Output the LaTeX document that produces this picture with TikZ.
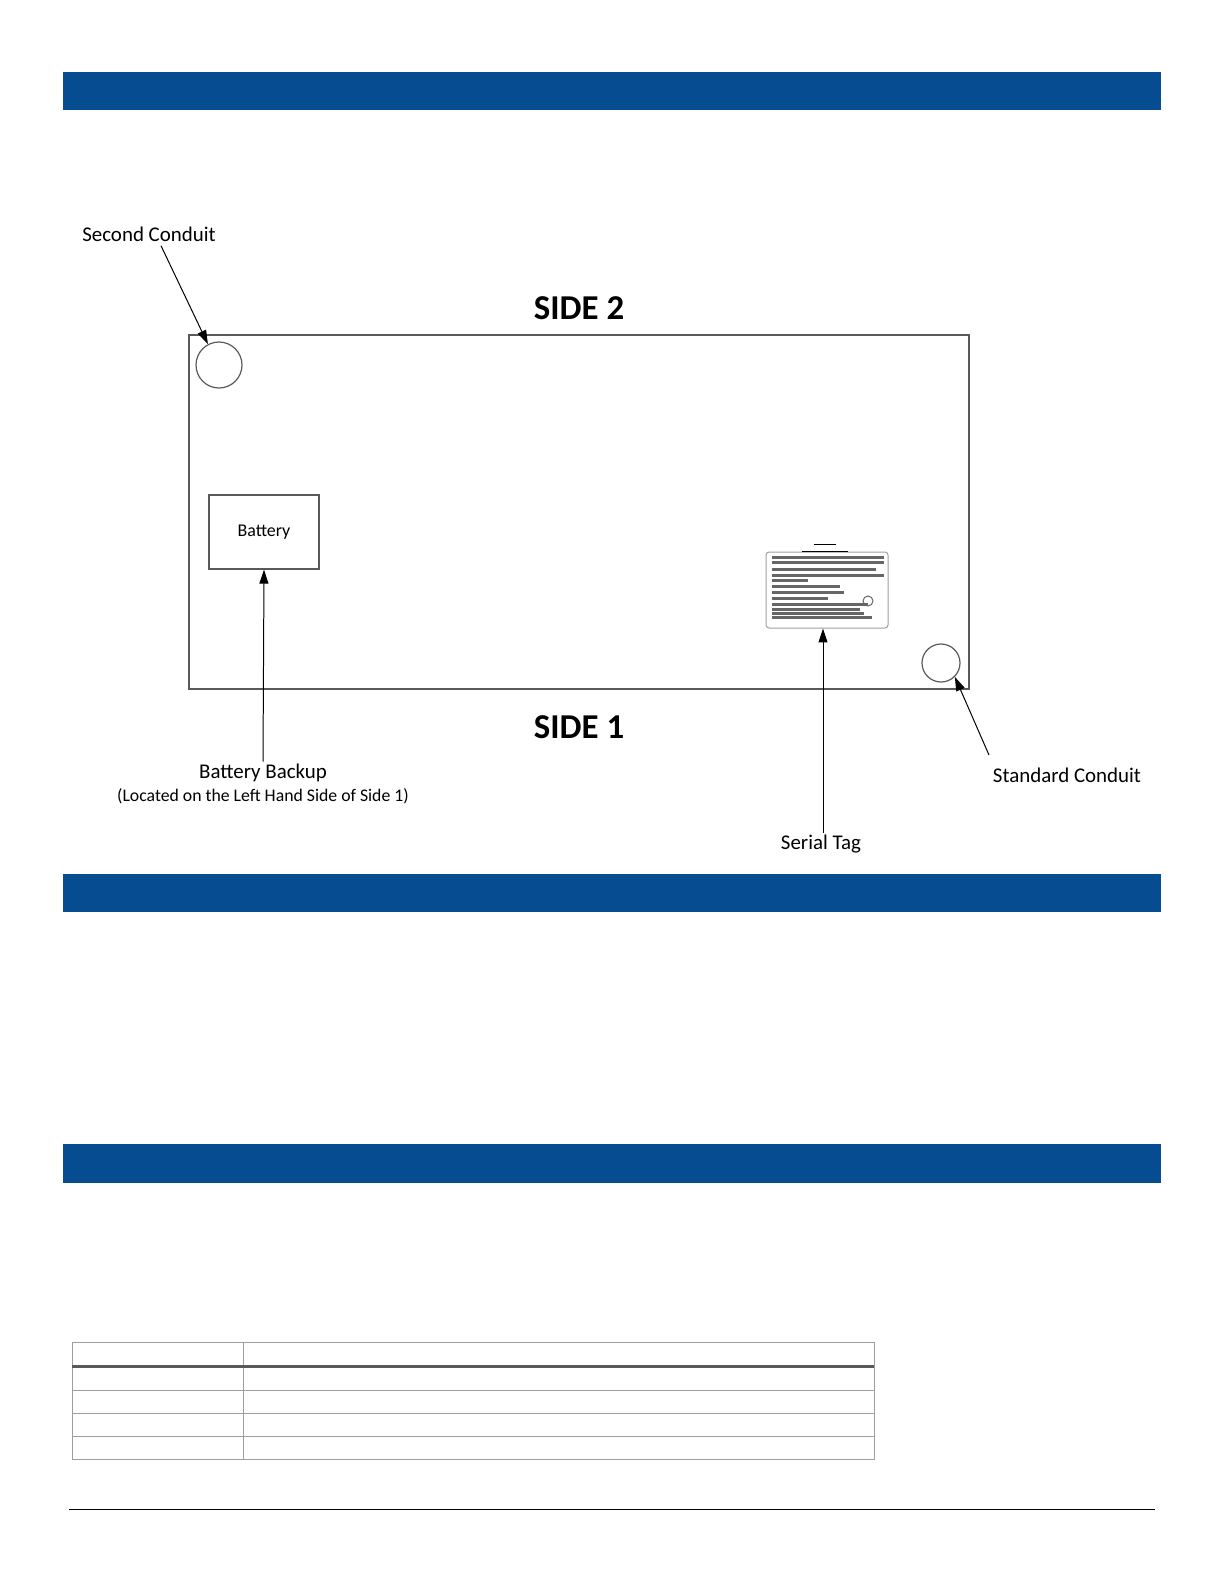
\documentclass[tikz,border=0pt]{standalone}
\usepackage{fontspec}
\setmainfont{Carlito}
\usetikzlibrary{arrows.meta,calc}
\definecolor{BarClr}{rgb}{0.02,0.30,0.57}
\definecolor{EdgeClr}{rgb}{0.35,0.35,0.35}
\definecolor{GridClr}{rgb}{0.62,0.62,0.62}

\begin{document}
\begin{tikzpicture}[x=0.5bp,y=-0.5bp,
  bar/.style={fill=BarClr,draw=none},
  pointer/.style={-{Triangle[length=7pt,width=4.5pt]},line width=0.5pt},
  callout/.style={font=\fontsize{10.5}{12}\selectfont,inner sep=1pt},
  side/.style={font=\fontsize{17.5}{20}\selectfont\bfseries},
  conduit/.style={circle,draw=EdgeClr,line width=0.6pt,inner sep=0pt}]
\path[use as bounding box] (0,0) rectangle (1224,1584);

% header bars
\fill[bar] (63,72) rectangle (1161,110);
\fill[bar] (63,874) rectangle (1161,912);
\fill[bar] (63,1144) rectangle (1161,1183);

% enclosure
\draw[EdgeClr,line width=0.7pt] (189,335) rectangle (969,689);
\node[side] (s2) at (579,308) {SIDE 2};
\node[side] (s1) at (579,727) {SIDE 1};

\node[conduit,minimum size=46bp/2] (cond2) at (219,365) {};
\node[conduit,minimum size=38bp/2] (cond1) at (941,663) {};

\node[draw=EdgeClr,line width=0.6pt,minimum width=55bp,minimum height=37bp,
  font=\fontsize{9}{10}\selectfont] (batt) at (264,532) {Battery};

% serial tag
\node[draw=GridClr,rounded corners=1.5pt,line width=0.5pt,minimum width=61bp,
  minimum height=38bp] (tag) at (827,590) {};
\node[font=\fontsize{2.6}{3}\selectfont,align=center,inner sep=0pt] (tagtop)
  at (825,548) {\rule{4mm}{0.4pt}\\[0.4pt]\rule{8mm}{0.4pt}};
\foreach \yy/\ll in {558/56,563/56,570/52,576/56,581/18,587/34,593/36,599/28,605/48,610/44,614/46,618/50}
  \draw[black!60,line width=1.1pt] ($(tag.north west)+(6,\yy-552)$) -- ++(\ll*2,0);
\draw[black!60,line width=0.5pt] (868,601) circle (5);

% callouts
\node[callout] (lbl2) at (149,234) {Second Conduit};
\draw[pointer] ($(lbl2.south)+(12,2)$) -- (cond2.118);

\node[callout,align=center] (lblb) at (263,773) {Battery Backup};
\node[font=\fontsize{8.9}{10}\selectfont,inner sep=1pt] (lblbs) at (263,796)
  {(Located on the Left Hand Side of Side 1)};
\draw[pointer] (lblb.north) -- (batt.south);

\node[callout] (lblt) at (821,844) {Serial Tag};
\draw[pointer] ($(lblt.north)+(2,0)$) -- (tag.south -| {$(lblt.north)+(2,0)$});

\node[callout] (lbl1) at (1067,775) {Standard Conduit};
\draw[pointer] (989,755) -- (cond1.-45);

% table
\draw[GridClr,line width=0.45pt] (72,1342) rectangle (874,1459);
\draw[GridClr,line width=0.45pt] (243,1342) -- (243,1459);
\foreach \yy in {1390,1413,1436}
  \draw[GridClr,line width=0.45pt] (72,\yy) -- (874,\yy);
\draw[EdgeClr,line width=1.5pt] (72,1366) -- (874,1366);

% footer rule
\draw[black,line width=0.5pt] (69,1509) -- (1155,1509);
\end{tikzpicture}
\end{document}
